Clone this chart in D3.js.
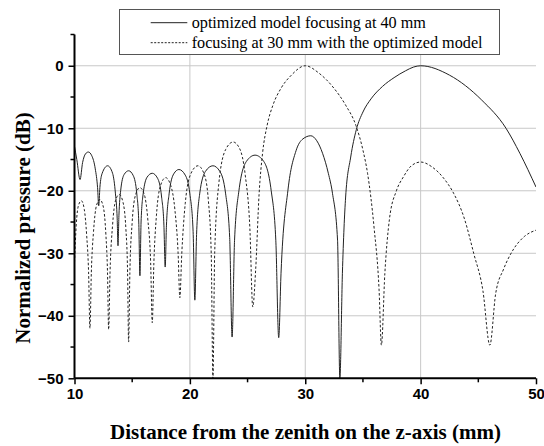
<!DOCTYPE html>
<html>
<head>
<meta charset="utf-8">
<script src="https://cdn.jsdelivr.net/npm/d3@7"></script>
<style>
  body { margin: 0; background: #fff; }
  .tick-label { font-family: "Liberation Sans", Arial, sans-serif; font-weight: bold; font-size: 15px; }
  .axis-title { font-family: "Liberation Serif", "Times New Roman", serif; font-weight: bold; font-size: 21px; }
  .legend-text { font-family: "Liberation Serif", "Times New Roman", serif; font-size: 16.2px; }
</style>
</head>
<body>
<div id="chart"></div>
<script>
// series: optimized model focusing at 40 mm (solid)
const solidX = [10.0, 10.2, 10.48, 10.7, 10.95, 11.2, 11.5, 11.8, 12.0, 12.1,
  12.2, 12.4, 12.87, 13.3, 13.55, 13.7, 13.77,
  13.85, 14.0, 14.3, 14.69, 15.1, 15.4, 15.57, 15.67,
  15.77, 15.95, 16.3, 16.74, 17.2, 17.55, 17.75, 17.86,
  17.97, 18.2, 18.6, 19.05, 19.6, 20.0, 20.28, 20.43,
  20.58, 20.85, 21.35, 22.0, 22.6, 23.1, 23.45, 23.66,
  23.87, 24.25, 24.9, 25.65, 26.4, 27.05, 27.45, 27.7,
  27.9, 28.5, 29.2, 29.8, 30.48, 31.0, 31.5, 32.0, 32.36, 32.8, 33.0,
  33.22, 33.5, 33.94, 34.43, 35.0, 35.7, 36.7, 37.7, 38.7, 39.4, 40.0, 42.5, 45.3, 47.4, 48.6, 50.0];
const solidDB = [-12.9, -15.0, -18.2, -15.5, -14.1, -13.8, -14.4, -16.5, -19.5, -22.4,
  -19.5, -17.2, -16.0, -17.2, -20.5, -24.5, -28.8,
  -24.0, -20.0, -17.4, -16.8, -17.6, -20.5, -25.0, -33.6,
  -25.0, -20.5, -17.8, -17.2, -18.0, -21.0, -25.5, -32.2,
  -25.5, -20.5, -17.3, -16.6, -17.5, -20.5, -26.5, -37.5,
  -27.0, -20.5, -16.9, -16.0, -16.9, -20.5, -27.5, -43.4,
  -28.0, -20.0, -15.3, -14.3, -15.3, -20.0, -28.0, -43.5,
  -33.2, -19.9, -13.6, -11.7, -11.2, -12.0, -14.0, -17.2, -20.4, -27.9, -50.0,
  -33.2, -21.0, -14.6, -10.2, -7.4, -5.3, -3.3, -1.9, -0.8, -0.2, 0.0, -1.5, -5.5, -10.0, -14.0, -19.4];

// series: focusing at 30 mm with the optimized model (dashed)
const dashedX = [10.0, 10.15, 10.35, 10.6, 10.85, 11.05, 11.22, 11.34,
  11.46, 11.65, 11.9, 12.2, 12.5, 12.72, 12.86, 12.96,
  13.08, 13.3, 13.55, 13.88, 14.2, 14.45, 14.6, 14.69,
  14.8, 15.0, 15.3, 15.67, 16.05, 16.35, 16.6, 16.74,
  16.88, 17.1, 17.45, 17.9, 18.35, 18.7, 18.98, 19.13,
  19.3, 19.6, 20.1, 20.7, 21.25, 21.6, 21.85, 22.0,
  22.15, 22.5, 23.1, 23.75, 24.3, 24.8, 25.2, 25.45,
  25.7, 26.0, 26.3, 26.7, 27.2, 27.9, 28.8, 30.0, 31.2, 32.4, 33.5, 34.4, 35.0, 35.4, 35.96, 36.4, 36.6,
  36.9, 37.3, 37.9, 38.5, 39.2, 40.0, 41.0, 42.0, 42.86, 43.8, 44.6, 45.4, 46.0,
  46.5, 47.2, 48.0, 49.0, 50.0];
const dashedDB = [-31.5, -25.5, -22.3, -21.6, -23.0, -27.0, -33.0, -42.0,
  -33.0, -26.5, -22.4, -21.4, -22.6, -27.0, -33.0, -42.2,
  -33.0, -25.5, -21.6, -20.6, -21.8, -26.0, -33.0, -44.2,
  -33.0, -25.0, -20.6, -19.5, -20.6, -24.5, -31.5, -41.1,
  -31.5, -24.0, -19.2, -17.9, -19.2, -23.0, -30.0, -37.1,
  -30.0, -22.0, -17.2, -16.0, -17.4, -21.5, -30.0, -50.0,
  -30.0, -19.0, -13.4, -12.2, -13.2, -17.5, -26.0, -38.6,
  -32.7, -20.5, -14.0, -9.5, -6.3, -3.6, -1.5, 0.0, -1.2, -3.4, -6.3, -9.6, -13.5, -17.2, -25.8, -35.9, -44.7,
  -33.2, -24.5, -20.0, -17.8, -16.0, -15.4, -16.2, -18.0, -20.4, -24.5, -30.0, -36.0, -44.7,
  -36.5, -32.5, -29.5, -27.3, -26.3];

const xMajor = [10, 20, 30, 40, 50];
const xMinor = [15, 25, 35, 45];
const yMajor = [-50, -40, -30, -20, -10, 0];
const yMinor = [-45, -35, -25, -15, -5, 5];
const legendLabels = ["optimized model focusing at 40 mm", "focusing at 30 mm with the optimized model"];

const width = 544, height = 446;
const margin = { top: 34.5, right: 8, bottom: 67.7, left: 74.5 };

const svg = d3.select("#chart").append("svg")
  .attr("width", width)
  .attr("height", height)
  .style("background", "#fff");

const x = d3.scaleLinear().domain([10, 50]).range([margin.left, width - margin.right]);
const y = d3.scaleLinear().domain([-50, 5]).range([height - margin.bottom, margin.top]);

// grid
svg.append("g")
  .selectAll("line")
  .data(xMajor.slice(1, -1))
  .join("line")
  .attr("x1", d => x(d)).attr("x2", d => x(d))
  .attr("y1", y(-50)).attr("y2", y(5))
  .attr("stroke", "#c8c8c8").attr("stroke-width", 1);

svg.append("g")
  .selectAll("line")
  .data(yMajor.slice(1))
  .join("line")
  .attr("x1", x(10)).attr("x2", x(50))
  .attr("y1", d => y(d)).attr("y2", d => y(d))
  .attr("stroke", "#c8c8c8").attr("stroke-width", 1);

// curves
svg.append("clipPath").attr("id", "plot-clip")
  .append("rect")
  .attr("x", x(10)).attr("y", y(5))
  .attr("width", x(50) - x(10)).attr("height", y(-50) - y(5));

const line = d3.line()
  .x(d => x(d[0]))
  .y(d => y(d[1]))
  .curve(d3.curveMonotoneX);

svg.append("path")
  .datum(d3.zip(solidX, solidDB))
  .attr("clip-path", "url(#plot-clip)")
  .attr("fill", "none")
  .attr("stroke", "#222")
  .attr("stroke-width", 1)
  .attr("d", line);

svg.append("path")
  .datum(d3.zip(dashedX, dashedDB))
  .attr("clip-path", "url(#plot-clip)")
  .attr("fill", "none")
  .attr("stroke", "#222")
  .attr("stroke-width", 1)
  .attr("stroke-dasharray", "2.5,2")
  .attr("d", line);

// axes
const xAxis = svg.append("g")
  .attr("transform", `translate(0,${y(-50)})`)
  .call(d3.axisBottom(x).tickValues(xMajor).tickSize(6).tickPadding(4).tickFormat(d3.format("d")));
xAxis.append("g")
  .selectAll("line")
  .data(xMinor)
  .join("line")
  .attr("x1", d => x(d)).attr("x2", d => x(d))
  .attr("y1", 0).attr("y2", 4)
  .attr("stroke", "#000").attr("stroke-width", 1.5);

const yAxis = svg.append("g")
  .attr("transform", `translate(${x(10)},0)`)
  .call(d3.axisLeft(y).tickValues(yMajor).tickSize(6).tickPadding(5).tickFormat(d3.format("d")));
yAxis.append("g")
  .selectAll("line")
  .data(yMinor)
  .join("line")
  .attr("x1", 0).attr("x2", -4)
  .attr("y1", d => y(d)).attr("y2", d => y(d))
  .attr("stroke", "#000").attr("stroke-width", 1.5);

[xAxis, yAxis].forEach(g => {
  g.select(".domain").attr("stroke", "#000").attr("stroke-width", 2)
    .attr("d", g === xAxis ? `M${x(10)},0H${x(50)}` : `M0,${y(-50)}V${y(5)}`);
  g.selectAll(".tick line").attr("stroke", "#000").attr("stroke-width", 1.5);
  g.selectAll(".tick text")
    .attr("class", "tick-label")
    .attr("fill", "#000");
  g.attr("font-size", null).attr("font-family", null);
});

// axis titles
svg.append("text")
  .attr("class", "axis-title")
  .attr("x", 305.5)
  .attr("y", 439)
  .attr("text-anchor", "middle")
  .text("Distance from the zenith on the z-axis (mm)");

svg.append("text")
  .attr("class", "axis-title")
  .attr("transform", "translate(30,228) rotate(-90)")
  .attr("text-anchor", "middle")
  .text("Normalized pressure (dB)");

// legend
const legend = svg.append("g");
legend.append("rect")
  .attr("x", 119.5).attr("y", 9.5)
  .attr("width", 380).attr("height", 45)
  .attr("fill", "#fff")
  .attr("stroke", "#555")
  .attr("stroke-width", 1);

legend.selectAll("line")
  .data(legendLabels)
  .join("line")
  .attr("x1", 150.7).attr("x2", 187.3)
  .attr("y1", (d, i) => 22.7 + i * 20).attr("y2", (d, i) => 22.7 + i * 20)
  .attr("stroke", "#222")
  .attr("stroke-width", 1)
  .attr("stroke-dasharray", (d, i) => i === 1 ? "2,1.5" : null);

legend.selectAll("text")
  .data(legendLabels)
  .join("text")
  .attr("class", "legend-text")
  .attr("x", 191.7)
  .attr("y", (d, i) => 28.3 + i * 20)
  .text(d => d);
</script>
</body>
</html>
